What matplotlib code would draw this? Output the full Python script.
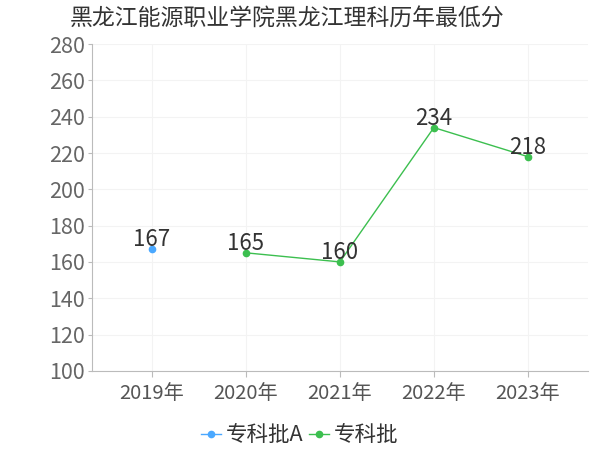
import matplotlib
matplotlib.use("Agg")
import matplotlib.pyplot as plt

plt.rcParams['font.family'] = ['Noto Sans CJK SC', 'DejaVu Sans']

years = ['2019年', '2020年', '2021年', '2022年', '2023年']
pos_a = [0]
vals_a = [167]
pos_b = [1, 2, 3, 4]
vals_b = [165, 160, 234, 218]

blue = '#4aa8ff'
green = '#3cbf4f'

fig = plt.figure(figsize=(6, 4.5), dpi=100)
ax = fig.add_axes([0.153, 0.176, 0.827, 0.726])

ax.plot(pos_a, vals_a, '-o', color=blue, markersize=4.5, linewidth=1, label='专科批A')
ax.plot(pos_b, vals_b, '-o', color=green, markersize=4.5, linewidth=1, label='专科批')

for x, v in zip(pos_a + pos_b, vals_a + vals_b):
    ax.text(x, v + 1.5, str(v), ha='center', va='baseline', fontsize=16, color='#333333')

ax.set_ylim(100, 280)
ax.set_yticks(range(100, 281, 20))
ax.set_xlim(-0.64, 4.64)
ax.set_xticks(range(len(years)))
ax.set_xticklabels(years)

ax.grid(True, color='#f3f3f3', linewidth=0.8)
ax.set_axisbelow(True)
for s in ['top', 'right']:
    ax.spines[s].set_visible(False)
ax.spines['left'].set_color('#bbbbbb')
ax.spines['bottom'].set_color('#bbbbbb')
ax.tick_params(axis='y', labelsize=15.5, colors='#666666', length=3, color='#bbbbbb', pad=2)
ax.tick_params(axis='x', labelsize=14.5, colors='#666666', length=4, color='#bbbbbb', pad=5)
ax.tick_params(axis='x', labelcolor='#555555')

fig.text(0.117, 0.958, '黑龙江能源职业学院黑龙江理科历年最低分', fontsize=16.5, color='#333333', va='center')

fig.legend(loc='lower center', bbox_to_anchor=(0.5, -0.035), ncol=2, frameon=False,
           fontsize=15.5, handlelength=0.9, handletextpad=0.25, columnspacing=0.25,
           labelcolor='#333333')

fig.savefig('out.png', dpi=100)
